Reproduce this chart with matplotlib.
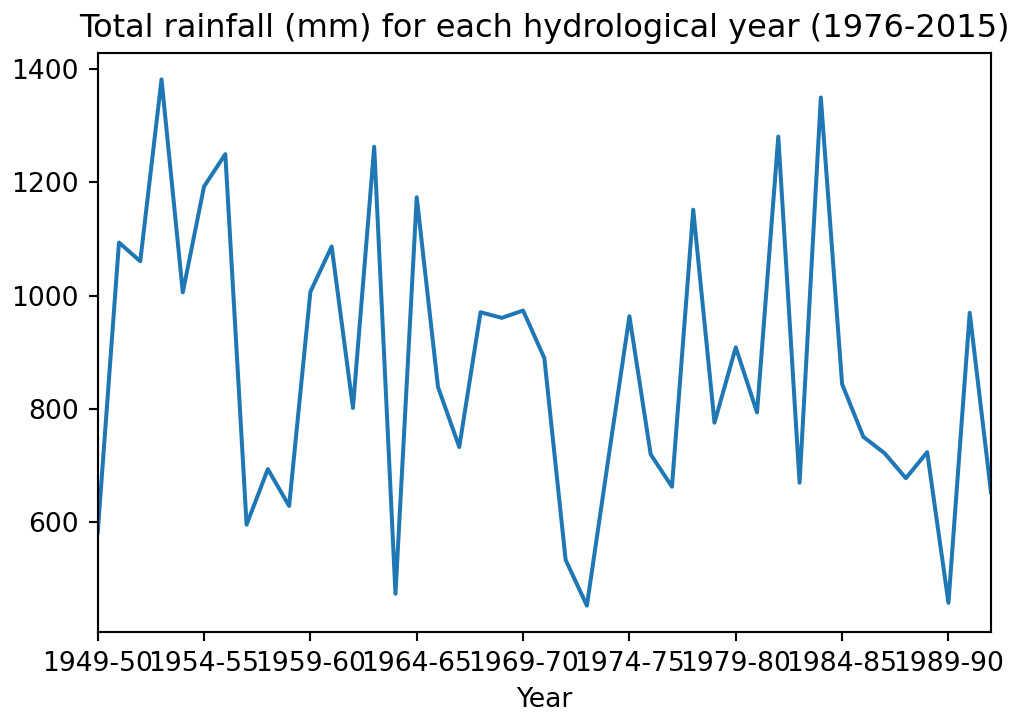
import matplotlib
matplotlib.use('Agg')
import matplotlib.pyplot as plt

years = ['1949-50', '1950-51', '1951-52', '1952-53', '1953-54', '1954-55', '1955-56',
         '1956-57', '1957-58', '1958-59', '1959-60', '1960-61', '1961-62', '1962-63',
         '1963-64', '1964-65', '1965-66', '1966-67', '1967-68', '1968-69', '1969-70',
         '1970-71', '1971-72', '1972-73', '1973-74', '1974-75', '1975-76', '1976-77',
         '1977-78', '1978-79', '1979-80', '1980-81', '1981-82', '1982-83', '1983-84',
         '1984-85', '1985-86', '1986-87', '1987-88', '1988-89', '1989-90', '1990-91',
         '1991-92']

rainfall = [582, 1094, 1061, 1382, 1006, 1193, 1250, 596, 694, 629,
            1007, 1087, 802, 1263, 474, 1174, 839, 733, 971, 961,
            974, 890, 534, 453, 710, 964, 720, 663, 1152, 776,
            909, 794, 1281, 670, 1350, 844, 751, 722, 678, 724,
            458, 970, 653]

dpi = 192
fig = plt.figure(figsize=(1021/dpi, 718/dpi), dpi=dpi)
ax = fig.add_axes([0.0957, 0.1198, 0.8749, 0.8063])

ax.plot(range(len(years)), rainfall, color='#1f77b4')

ax.set_xticks(range(0, len(years), 5))
ax.set_xticklabels(years[::5])
ax.set_xlim(0, len(years) - 1)
ax.set_xlabel('Year')
ax.set_title('Total rainfall (mm) for each hydrological year (1976-2015)')

fig.savefig('out.png', dpi=dpi)
